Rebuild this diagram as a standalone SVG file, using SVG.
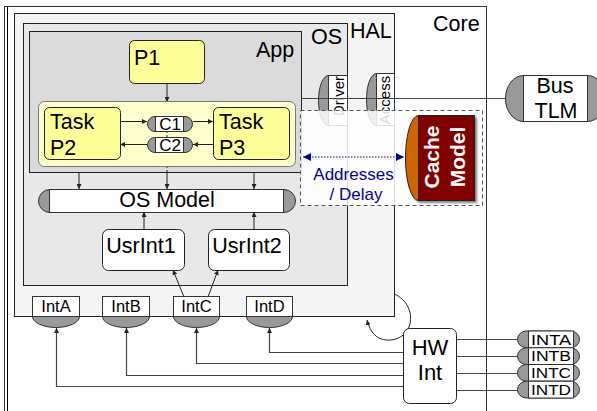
<svg xmlns="http://www.w3.org/2000/svg" width="597" height="411" viewBox="0 0 597 411">
<style>
text{font-family:"Liberation Sans",Arial,sans-serif;fill:#000}
.t21{font-size:21.5px}
.t17{font-size:17px}
.t16{font-size:16.5px}
.t15{font-size:15px}
.pin{font-size:15px}
.mid{text-anchor:middle}
.box{stroke:#222;stroke-width:1}
.gray{fill:#999;stroke:#333;stroke-width:1}
.wh{fill:#fff;stroke:#333;stroke-width:1}
.ln{fill:none;stroke:#222;stroke-width:1}
.lg{fill:none;stroke:#444;stroke-width:1.2}
</style>
<defs>
<marker id="ah" viewBox="0 0 10 10" refX="10" refY="5" markerWidth="5" markerHeight="5" orient="auto" markerUnits="userSpaceOnUse"><path d="M0,0 L10,5 L0,10 Z" fill="#222"/></marker>
<marker id="ab" viewBox="0 0 10 10" refX="10" refY="5" markerWidth="10" markerHeight="8" orient="auto-start-reverse" markerUnits="userSpaceOnUse"><path d="M0,0 L10,5 L0,10 Z" fill="#000099"/></marker>
<filter id="sh" x="-10%" y="-10%" width="130%" height="130%"><feDropShadow dx="2" dy="2" stdDeviation="0.8" flood-color="#000" flood-opacity="0.5"/></filter>
</defs>

<g id="core">
<rect x="4.5" y="6.5" width="482" height="420" fill="#fff" stroke="#333"/>
<line x1="7.5" y1="7" x2="7.5" y2="411" stroke="#000"/>
<text class="t21" x="433" y="31">Core</text>
</g>
<g id="hal">
<rect x="14.5" y="13.5" width="380" height="303" fill="#f4f4f4" class="box"/>
<text class="t21" x="350" y="38">HAL</text>
</g>
<g id="os">
<rect x="23.5" y="23.5" width="324" height="262" fill="#e8e8e8" class="box"/>
<text class="t21" x="311" y="44">OS</text>
</g>
<g id="app">
<rect x="29.5" y="31.5" width="272" height="141" fill="#dadada" class="box"/>
<text class="t21" x="256" y="57">App</text>
</g>

<g id="connectors">
<line class="ln" x1="167" y1="83" x2="167" y2="102" marker-end="url(#ah)"/>
<line x1="167" y1="102" x2="167" y2="172" stroke="#222" stroke-dasharray="2,2"/>
<line class="ln" x1="79" y1="172" x2="79" y2="189" marker-end="url(#ah)"/>
<line class="ln" x1="167" y1="172" x2="167" y2="189" marker-end="url(#ah)"/>
<line class="ln" x1="254" y1="172" x2="254" y2="189" marker-end="url(#ah)"/>
<line class="ln" x1="144" y1="229" x2="144" y2="212" marker-end="url(#ah)"/>
<line class="ln" x1="254" y1="229" x2="254" y2="212" marker-end="url(#ah)"/>
<line class="ln" x1="184" y1="297" x2="173" y2="270" marker-end="url(#ah)"/>
<line class="ln" x1="208" y1="297" x2="218" y2="270" marker-end="url(#ah)"/>
<line class="lg" x1="301" y1="98.5" x2="506" y2="98.5"/>
<path class="lg" d="M403,352.5 H269.5 V328" marker-end="url(#ah)"/>
<path class="lg" d="M403,363.5 H196.5 V328" marker-end="url(#ah)"/>
<path class="lg" d="M403,375.5 H126.5 V328" marker-end="url(#ah)"/>
<path class="lg" d="M403,386.5 H56.5 V328" marker-end="url(#ah)"/>
<path class="lg" d="M456,339.5 H518"/>
<path class="lg" d="M456,356.5 H518"/>
<path class="lg" d="M456,373.5 H518"/>
<path class="lg" d="M456,390.5 H518"/>
<path class="ln" d="M394,294 C407,299 414,314 409,327 C404,339 390,343 379,338 C373,335 369,328 367,320" marker-end="url(#ah)"/>
</g>

<g id="p1">
<rect x="129.5" y="40.5" width="75" height="43" rx="5" fill="#ffff99" class="box"/>
<text class="t21" x="134" y="65">P1</text>
</g>
<g id="taskgroup">
<rect x="38.5" y="101.5" width="257" height="65" rx="6" fill="#ffffcc" stroke="#777"/>
</g>
<g id="conn-tasks">
<line class="ln" x1="120" y1="121.5" x2="147" y2="121.5" marker-end="url(#ah)"/>
<line class="ln" x1="193" y1="121.5" x2="213" y2="121.5" marker-end="url(#ah)"/>
<line class="ln" x1="213" y1="144.5" x2="193" y2="144.5" marker-end="url(#ah)"/>
<line class="ln" x1="147" y1="144.5" x2="120" y2="144.5" marker-end="url(#ah)"/>
<line x1="167" y1="131" x2="167" y2="137" stroke="#222" stroke-dasharray="2,2"/>
</g>
<g id="p2">
<rect x="44.5" y="107.5" width="76" height="52" rx="5" fill="#ffff99" class="box"/>
<text class="t21" x="50" y="129">Task</text>
<text class="t21" x="50" y="155">P2</text>
</g>
<g id="p3">
<rect x="213.5" y="107.5" width="76" height="52" rx="5" fill="#ffff99" class="box"/>
<text class="t21" x="219" y="129">Task</text>
<text class="t21" x="219" y="155">P3</text>
</g>
<g id="c1">
<rect x="147.5" y="116.5" width="45" height="15" rx="7.5" class="gray"/>
<rect x="155.5" y="116.5" width="28" height="15" class="wh"/>
<text class="t17 mid" x="170" y="130">C1</text>
</g>
<g id="c2">
<rect x="147.5" y="137.5" width="45" height="15" rx="7.5" class="gray"/>
<rect x="155.5" y="137.5" width="28" height="15" class="wh"/>
<text class="t17 mid" x="170" y="151">C2</text>
</g>

<g id="osmodel">
<rect x="38.5" y="189.5" width="257" height="23" rx="11.5" class="gray"/>
<rect x="49.5" y="189.5" width="234" height="23" class="wh"/>
<text class="t21 mid" x="167" y="207">OS Model</text>
</g>
<g id="usrint1">
<rect x="102.5" y="229.5" width="82" height="41" rx="6" fill="#fff" class="box"/>
<text class="t21 mid" x="141" y="253">UsrInt1</text>
</g>
<g id="usrint2">
<rect x="208.5" y="229.5" width="81" height="41" rx="6" fill="#fff" class="box"/>
<text class="t21 mid" x="247" y="253">UsrInt2</text>
</g>

<g id="inta">
<path d="M32.5,316.5 A23.5,11 0 0 0 79.5,316.5 Z" class="gray"/>
<rect x="32.5" y="296.5" width="47" height="20" class="wh"/>
<text class="t16 mid" x="56" y="312">IntA</text>
</g>
<g id="intb">
<path d="M102.5,316.5 A23.5,11 0 0 0 149.5,316.5 Z" class="gray"/>
<rect x="102.5" y="296.5" width="47" height="20" class="wh"/>
<text class="t16 mid" x="126" y="312">IntB</text>
</g>
<g id="intc">
<path d="M173.5,316.5 A23,11 0 0 0 219.5,316.5 Z" class="gray"/>
<rect x="173.5" y="296.5" width="46" height="20" class="wh"/>
<text class="t16 mid" x="196.5" y="312">IntC</text>
</g>
<g id="intd">
<path d="M246.5,316.5 A23,11 0 0 0 292.5,316.5 Z" class="gray"/>
<rect x="246.5" y="296.5" width="46" height="20" class="wh"/>
<text class="t16 mid" x="269.5" y="312">IntD</text>
</g>

<g id="driver">
<path d="M328.5,75.5 A10,25 0 0 0 328.5,125.5 Z" class="gray"/>
<rect x="328.5" y="75.5" width="19" height="50" class="wh"/>
<text class="t15 mid" transform="translate(344,96) rotate(-90)">Driver</text>
</g>
<g id="access">
<path d="M376.5,73.5 A10,26 0 0 0 376.5,125.5 Z" class="gray"/>
<rect x="376.5" y="73.5" width="18" height="52" class="wh"/>
<text class="t15 mid" transform="translate(390,100) rotate(-90)">Access</text>
</g>
<line class="lg" x1="301" y1="98.5" x2="400" y2="98.5"/>

<g id="addrbox">
<rect x="300.5" y="110.5" width="182" height="95" fill="#fff" fill-opacity="0.85" stroke="#555" stroke-dasharray="4,3"/>
<line x1="303" y1="157" x2="404" y2="157" stroke="#000099" stroke-width="1" stroke-dasharray="1.5,1.5" marker-start="url(#ab)" marker-end="url(#ab)"/>
<text class="t17 mid" x="353.5" y="180" style="fill:#000099">Addresses</text>
<text class="t17 mid" x="356" y="200" style="fill:#000099">/ Delay</text>
</g>

<g id="cache">
<g filter="url(#sh)">
<path d="M418.5,115.5 A13,42.5 0 0 0 418.5,200.5 Z" fill="#cc6600" stroke="#222"/>
<rect x="418.5" y="115.5" width="56" height="85" fill="#800000" stroke="#222"/>
</g>
<text transform="translate(439,157) rotate(-90)" text-anchor="middle" style="font-size:21px;font-weight:bold;fill:#fff">Cache</text>
<text transform="translate(465,157) rotate(-90)" text-anchor="middle" style="font-size:21px;font-weight:bold;fill:#fff">Model</text>
</g>

<g id="bustlm">
<rect x="505.5" y="75.5" width="100" height="46" rx="18" ry="23" class="gray"/>
<rect x="523.5" y="75.5" width="64" height="46" class="wh"/>
<text class="t21 mid" x="555" y="93">Bus</text>
<text class="t21 mid" x="556" y="118">TLM</text>
</g>

<g id="hwint">
<rect x="403.5" y="328.5" width="53" height="75" rx="6" fill="#fff" class="box"/>
<text class="mid" x="430" y="355" style="font-size:22px">HW</text>
<text class="mid" x="430" y="380" style="font-size:22px">Int</text>
</g>

<g id="intA-pin">
<rect x="517.5" y="331" width="62" height="16.75" rx="9" ry="8.4" class="gray"/>
<rect x="528.5" y="331" width="45" height="16.75" class="wh"/>
<text class="pin mid" x="551" y="344.6" textLength="40" lengthAdjust="spacingAndGlyphs">INTA</text>
</g>
<g id="intB-pin">
<rect x="517.5" y="347.75" width="62" height="16.75" rx="9" ry="8.4" class="gray"/>
<rect x="528.5" y="347.75" width="45" height="16.75" class="wh"/>
<text class="pin mid" x="551" y="361.35" textLength="40" lengthAdjust="spacingAndGlyphs">INTB</text>
</g>
<g id="intC-pin">
<rect x="517.5" y="364.5" width="62" height="16.75" rx="9" ry="8.4" class="gray"/>
<rect x="528.5" y="364.5" width="45" height="16.75" class="wh"/>
<text class="pin mid" x="551" y="378.1" textLength="40" lengthAdjust="spacingAndGlyphs">INTC</text>
</g>
<g id="intD-pin">
<rect x="517.5" y="381.25" width="62" height="16.75" rx="9" ry="8.4" class="gray"/>
<rect x="528.5" y="381.25" width="45" height="16.75" class="wh"/>
<text class="pin mid" x="551" y="394.85" textLength="40" lengthAdjust="spacingAndGlyphs">INTD</text>
</g>
</svg>
